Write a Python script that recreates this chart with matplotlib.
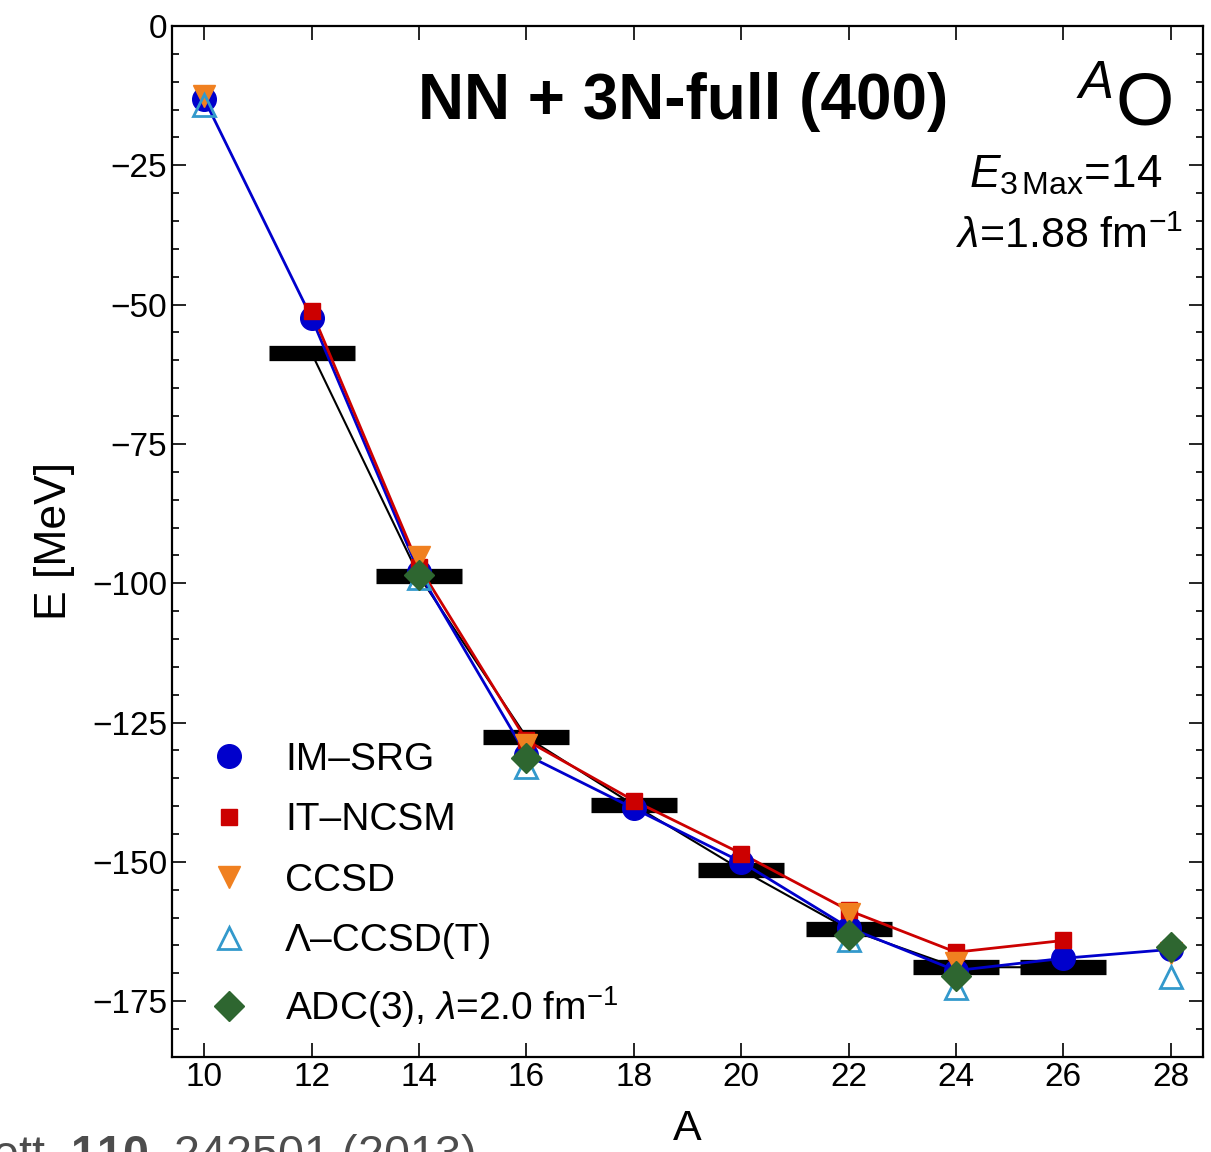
import numpy as np
import matplotlib
matplotlib.use("Agg")
import matplotlib.pyplot as plt
from matplotlib.ticker import MultipleLocator

plt.rcParams['font.family'] = ['Liberation Sans', 'DejaVu Sans']
plt.rcParams['mathtext.fontset'] = 'custom'
plt.rcParams['mathtext.rm'] = 'Liberation Sans'
plt.rcParams['mathtext.it'] = 'Liberation Sans:italic'
plt.rcParams['mathtext.bf'] = 'Liberation Sans:bold'

# experiment (black bars)
A_exp = [12, 14, 16, 18, 20, 22, 24, 26]
E_exp = [-58.7, -98.7, -127.6, -139.8, -151.4, -162.1, -168.9, -168.9]

# IM-SRG
A_imsrg = [10, 12, 14, 16, 18, 20, 22, 24, 26, 28]
E_imsrg = [-13.1, -52.4, -98.0, -130.8, -140.4, -150.0, -161.8, -169.5, -167.3, -165.7]

# IT-NCSM
A_ncsm = [12, 14, 16, 18, 20, 22, 24, 26]
E_ncsm = [-51.2, -97.0, -128.2, -139.0, -148.5, -158.7, -166.2, -164.1]

# CCSD
A_ccsd = [10, 14, 16, 22, 24, 28]
E_ccsd = [-12.5, -95.3, -129.0, -159.3, -168.2, -166.4]

# Lambda-CCSD(T)
A_lccsd = [10, 14, 16, 22, 24, 28]
E_lccsd = [-14.2, -99.0, -133.0, -164.1, -172.7, -170.7]

# ADC(3)
A_adc = [14, 16, 22, 24, 28]
E_adc = [-98.6, -131.4, -163.2, -170.4, -165.2]

fig = plt.figure(figsize=(12.11, 11.52), dpi=100)
ax = fig.add_axes([0.142, 0.0825, 0.8514, 0.895])

A_exp_arr = np.array(A_exp)
ax.hlines(E_exp, A_exp_arr - 0.8, A_exp_arr + 0.8, colors='black', lw=11, zorder=2)
ax.plot(A_exp, E_exp, color='black', lw=1.5, zorder=3)
ax.plot(A_imsrg, E_imsrg, color='#0000cc', lw=2, zorder=3)
ax.plot(A_ncsm, E_ncsm, color='#cc0000', lw=2, zorder=3)

ax.plot(A_imsrg, E_imsrg, 'o', color='#0000cc', ms=17, ls='none', zorder=4, label='IM–SRG')
ax.plot(A_ncsm, E_ncsm, 's', color='#cc0000', ms=12, ls='none', zorder=5, label='IT–NCSM')
ax.plot(A_ccsd, E_ccsd, 'v', color='#f08020', ms=16, ls='none', zorder=6, label='CCSD')
ax.plot(A_lccsd, E_lccsd, '^', mfc='none', mec='#3399cc', mew=2, ms=16, ls='none', zorder=7,
        label='Λ–CCSD(T)')
ax.plot(A_adc, E_adc, 'D', color='#2e6630', ms=15, ls='none', zorder=8,
        label=r'ADC(3), $\lambda$=2.0 fm$^{-1}$')

ax.set_xlim(9.4, 28.6)
ax.set_ylim(-185, 0)
ax.xaxis.set_major_locator(MultipleLocator(2))
ax.yaxis.set_major_locator(MultipleLocator(25))
ax.yaxis.set_minor_locator(MultipleLocator(5))
ax.tick_params(which='both', direction='in', top=True, right=True, labelsize=24, width=1.2)
ax.tick_params(which='major', length=10)
ax.tick_params(which='minor', length=5)
for s in ax.spines.values():
    s.set_linewidth(1.6)

ax.set_xlabel('A', fontsize=31, labelpad=12)
ax.set_ylabel('E [MeV]', fontsize=32, labelpad=12)

ax.text(0.2386, 0.926, 'NN + 3N-full (400)', transform=ax.transAxes, fontsize=46,
        fontweight='bold', ha='left', va='center')
ax.text(0.97, 0.923, r'$^{A}$O', transform=ax.transAxes, fontsize=54, ha='right', va='center')
ax.text(0.96, 0.855, r'$E_{3\,\mathrm{Max}}$=14', transform=ax.transAxes, fontsize=33,
        ha='right', va='center')
ax.text(0.98, 0.795, r'$\lambda$=1.88 fm$^{-1}$', transform=ax.transAxes, fontsize=31,
        ha='right', va='center')

ax.legend(loc='lower left', bbox_to_anchor=(-0.009, 0.0), frameon=False, fontsize=28,
          handletextpad=0.45, labelspacing=0.63, borderpad=0.2, numpoints=1)

fig.text(475 / 1211, 1 - 1168 / 1152, r'Lett. $\mathbf{110}$, 242501 (2013)',
         fontsize=33.5, color='#4d4d4d', ha='right', va='baseline')

fig.savefig('out.png', dpi=100)
